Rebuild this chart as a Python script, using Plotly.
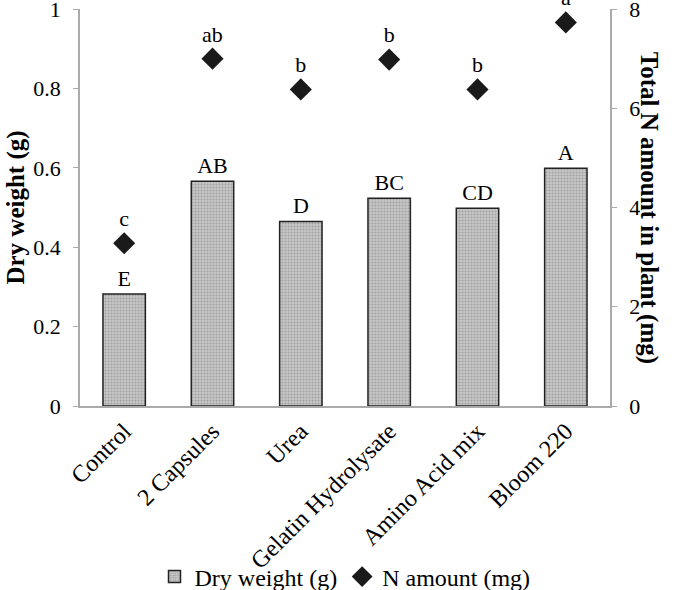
import plotly.graph_objects as go

categories = ["Control", "2 Capsules", "Urea", "Gelatin Hydrolysate", "Amino Acid mix", "Bloom 220"]
dry_weight = [0.282, 0.566, 0.465, 0.523, 0.498, 0.599]
dry_letters = ["E", "AB", "D", "BC", "CD", "A"]
n_amount = [3.28, 7.0, 6.38, 6.98, 6.38, 7.73]
n_letters = ["c", "ab", "b", "b", "b", "a"]

FONT = "Liberation Serif, Times New Roman, serif"

fig = go.Figure()
fig.add_trace(go.Bar(
    x=categories, y=dry_weight, name="Dry weight (g)",
    text=dry_letters, textposition="outside", cliponaxis=False,
    textfont=dict(size=22, color="black", family=FONT),
    width=0.48,
    marker=dict(color="#b4b4b4", line=dict(color="#222222", width=1.5),
                pattern=dict(shape=".", fgcolor="#7a7a7a", bgcolor="#c8c8c8", size=3, solidity=0.4)),
))
fig.add_trace(go.Scatter(
    x=categories, y=n_amount, name="N amount (mg)", yaxis="y2",
    mode="markers+text", text=n_letters, textposition="top center", cliponaxis=False,
    textfont=dict(size=22, color="black", family=FONT),
    marker=dict(symbol="diamond", size=17, color="#1a1a1a", line=dict(color="#1a1a1a", width=0)),
))

fig.update_layout(
    width=675, height=590,
    margin=dict(l=80, r=65, t=9, b=184),
    plot_bgcolor="white", paper_bgcolor="white",
    font=dict(family=FONT, size=22, color="black"),
    xaxis=dict(tickangle=-45, showline=True, linecolor="#aaaaaa", linewidth=1.5,
               ticks="", tickfont=dict(size=24), automargin=False),
    yaxis=dict(range=[0, 1], tickvals=[0, 0.2, 0.4, 0.6, 0.8, 1],
               ticktext=["0", "0.2", "0.4", "0.6", "0.8", "1"],
               showgrid=False, zeroline=False, automargin=False, ticklabeloverflow="allow",
               showline=True, linecolor="#aaaaaa", linewidth=1.5,
               ticks="outside", ticklen=5, tickcolor="#aaaaaa", ticklabelstandoff=8,
               title=dict(text="<b>Dry weight (g)</b>", font=dict(size=25), standoff=2)),
    yaxis2=dict(range=[0, 8], tickvals=[0, 2, 4, 6, 8], overlaying="y", side="right",
                showgrid=False, automargin=False, ticklabeloverflow="allow",
                zeroline=False, showline=True, linecolor="#aaaaaa", linewidth=1.5,
                ticks="outside", ticklen=5, tickcolor="#aaaaaa", ticklabelstandoff=8),
    legend=dict(orientation="h", x=0.5, xanchor="center",
                yref="container", y=0.022, yanchor="middle",
                font=dict(size=24, family=FONT), itemwidth=30, tracegroupgap=0,
                bgcolor="rgba(0,0,0,0)"),
    showlegend=True,
)
fig.add_annotation(
    text="<b>Total N amount in plant (mg)</b>", textangle=90,
    xref="paper", yref="paper", x=1.075, y=0.5, xanchor="center", yanchor="middle",
    showarrow=False, font=dict(size=25, family=FONT),
)

# drop the default 8px body margin so the figure sits at the page corner
fig.write_html("out.html", config={"displayModeBar": False},
               post_script="document.body.style.margin='0';")
